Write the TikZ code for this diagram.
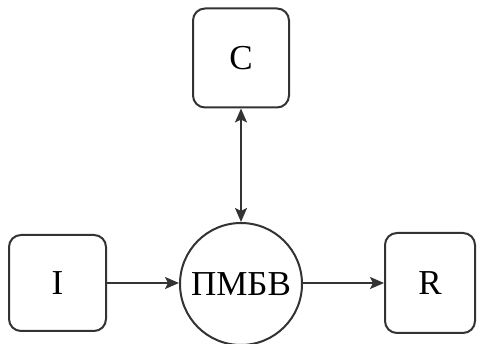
\documentclass[tikz,border=0pt]{standalone}
\usepackage{fontspec}
\setmainfont{Liberation Serif}
\usetikzlibrary{arrows.meta}
\tikzset{
  box/.style={draw=black!80, line width=2pt, rounded corners=12pt, fill=white,
    inner sep=0pt, font=\fontsize{35}{42}\selectfont},
  hub/.style={draw=black!80, line width=2pt, circle, minimum size=122pt, inner sep=0pt,
    fill=white, font=\fontsize{35}{42}\selectfont},
  link/.style={draw=black!80, line width=2pt, -{Stealth[length=14pt,width=12pt,inset=3pt]}},
  biLink/.style={link, {Stealth[length=14pt,width=12pt,inset=3pt]}-{Stealth[length=14pt,width=12pt,inset=3pt]}}
}
\begin{document}
\begin{tikzpicture}[x=1pt,y=-1pt]
  \useasboundingbox (0,0) rectangle (477,344);
  \node[box, minimum width=96pt, minimum height=99pt] (c) at (241,58) {C};
  \node[box, minimum width=97pt, minimum height=96pt] (i) at (57.5,283) {I};
  \node[box, minimum width=90pt, minimum height=100pt] (r) at (430,283) {R};
  \node[hub] (p) at (241,284) {ПМБВ};
  \draw[link] (i.east) -- (i.east -| p.west);
  \draw[link] (p.east |- r.west) -- (r.west);
  \draw[biLink] (c.south) -- (p.north);
\end{tikzpicture}
\end{document}
